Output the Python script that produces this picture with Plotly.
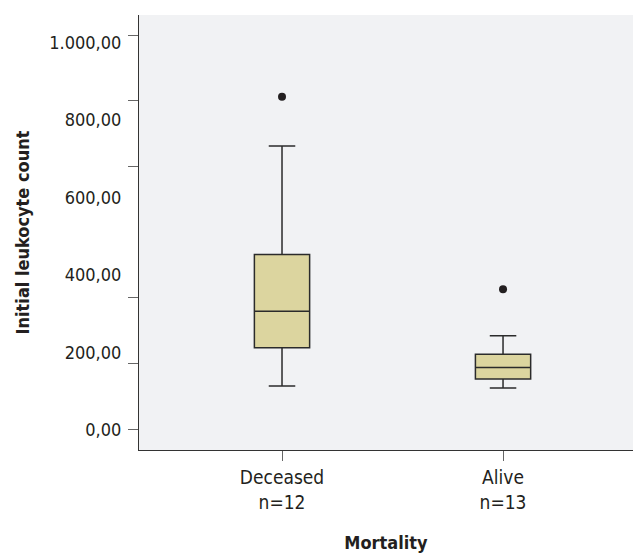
import plotly.graph_objects as go

categories = ["Deceased<br>n=12", "Alive<br>n=13"]
q1 = [212, 131]
median = [306, 161]
q3 = [453, 195]
lower_whisker = [113, 108]
upper_whisker = [733, 243]
outlier_cat = ["Deceased<br>n=12", "Alive<br>n=13"]
outlier_val = [860, 363]
y_tick_vals = [0, 200, 400, 600, 800, 1000]
y_tick_text = ["0,00", "200,00", "400,00", "600,00", "800,00", "1.000,00"]
y_tick_marks = [0, 172, 341, 680, 849, 1019]

FONT = "DejaVu Sans Condensed, DejaVu Sans, sans-serif"
TXT = "#231f20"

fig = go.Figure()
fig.add_trace(go.Box(
    x=categories, q1=q1, median=median, q3=q3,
    lowerfence=lower_whisker, upperfence=upper_whisker,
    width=0.25, whiskerwidth=0.48, boxpoints=False,
    fillcolor="#dcd59f", line=dict(color="#2b2b2b", width=1.5),
    showlegend=False, hoverinfo="skip",
))
fig.add_trace(go.Scatter(
    x=outlier_cat, y=outlier_val, mode="markers",
    marker=dict(color=TXT, size=8), showlegend=False, hoverinfo="skip",
))

fig.update_layout(
    width=633, height=554,
    margin=dict(l=139, r=0, t=15, b=104),
    paper_bgcolor="white", plot_bgcolor="#f1f2f4",
    font=dict(family=FONT, size=18, color=TXT),
)
fig.update_xaxes(
    type="category", range=[-0.647, 1.588], automargin=False,
    showline=True, linecolor="#333", linewidth=1.2,
    ticks="outside", ticklen=10, tickcolor="#666", tickwidth=1,
    showgrid=False, zeroline=False,
    tickfont=dict(size=19),
    title=dict(text="<b>Mortality</b>", font=dict(size=18), standoff=24),
)
fig.update_yaxes(
    range=[-52, 1071], automargin=False,
    tickvals=y_tick_vals, ticktext=y_tick_text,
    ticks="outside", ticklen=10, tickcolor="rgba(0,0,0,0)",
    ticklabelstandoff=3,
    minor=dict(tickmode="array", tickvals=y_tick_marks, ticks="outside",
               ticklen=10, tickcolor="#666", tickwidth=1, showgrid=False),
    showline=True, linecolor="#333", linewidth=1.2,
    showgrid=False, zeroline=False,
    tickfont=dict(size=18),
    title=dict(text="<b>Initial leukocyte count</b>", font=dict(size=18), standoff=14),
)

fig.write_html("out.html", config={"displayModeBar": False},
               post_script="document.body.style.margin='0';")
